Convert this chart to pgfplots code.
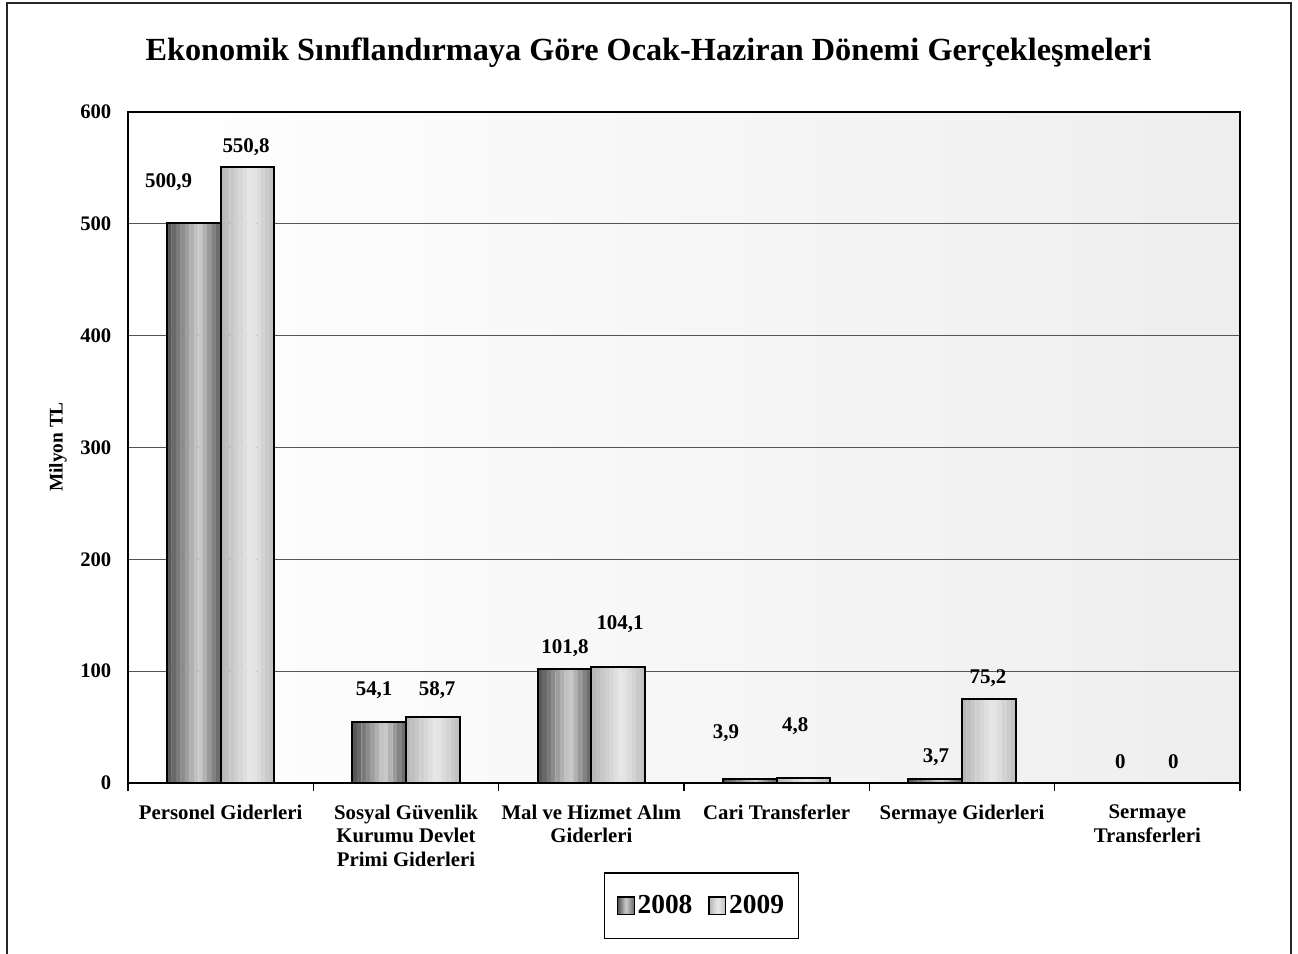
\documentclass[border=0pt]{standalone}
\usepackage{pgfplots}
\usepackage{pgfplotstable}
\pgfplotsset{compat=1.18}
\usepackage{fontspec}
\setmainfont{Liberation Serif}
\definecolor{gridc}{HTML}{555555}
\definecolor{aL}{HTML}{505050}
\definecolor{aM}{HTML}{CCCCCC}
\definecolor{aR}{HTML}{6A6A6A}
\definecolor{bL}{HTML}{B5B5B5}
\definecolor{bM}{HTML}{E8E8E8}
\definecolor{bR}{HTML}{C0C0C0}
\definecolor{bgR}{HTML}{EEEEEE}
% stripe colours (left to right) for the shaded bars
\definecolor{a0}{HTML}{585858}\definecolor{a1}{HTML}{686868}\definecolor{a2}{HTML}{7A7A7A}
\definecolor{a3}{HTML}{8C8C8C}\definecolor{a4}{HTML}{9E9E9E}\definecolor{a5}{HTML}{B0B0B0}
\definecolor{a6}{HTML}{C2C2C2}\definecolor{a7}{HTML}{C8C8C8}\definecolor{a8}{HTML}{B2B2B2}
\definecolor{a9}{HTML}{9A9A9A}\definecolor{a10}{HTML}{838383}\definecolor{a11}{HTML}{6E6E6E}
\definecolor{b0}{HTML}{B8B8B8}\definecolor{b1}{HTML}{BFBFBF}\definecolor{b2}{HTML}{C7C7C7}
\definecolor{b3}{HTML}{CFCFCF}\definecolor{b4}{HTML}{D7D7D7}\definecolor{b5}{HTML}{DFDFDF}
\definecolor{b6}{HTML}{E6E6E6}\definecolor{b7}{HTML}{E4E4E4}\definecolor{b8}{HTML}{DCDCDC}
\definecolor{b9}{HTML}{D3D3D3}\definecolor{b10}{HTML}{CACACA}\definecolor{b11}{HTML}{C2C2C2}
\pgfplotstableread{
x y08 y09
0 500.9 550.8
1 54.1 58.7
2 101.8 104.1
3 3.9 4.8
4 3.7 75.2
5 0 0
}\datatable
% strip: colour, shift, column
\newcommand{\strip}[3]{\addplot[forget plot, draw=none, fill=#1, bar width=0.02508, bar shift=#2] table[x=x,y=#3]{\datatable};}
\begin{document}
\begin{tikzpicture}
\path[use as bounding box] (0,0) rectangle (973.5pt,714.75pt);
\draw[line width=1.2pt, black!85] (5.25pt,-20pt) -- (5.25pt,712.5pt) -- (968.25pt,712.5pt) -- (968.25pt,-20pt);
\node[font=\bfseries\fontsize{24.2}{30}\selectfont, anchor=base] at (486.4pt,669pt) {Ekonomik Sınıflandırmaya Göre Ocak-Haziran Dönemi Gerçekleşmeleri};
\node[rotate=90, font=\bfseries\fontsize{14.5}{17}\selectfont] at (43.5pt,379.5pt) {Milyon TL};
\begin{axis}[
  at={(96pt,127.5pt)}, anchor=south west,
  scale only axis, width=834pt, height=503.25pt,
  xmin=-0.5, xmax=5.5, ymin=0, ymax=600,
  ytick={0,100,...,600},
  ymajorgrids, grid style={gridc, line width=0.8pt},
  xtick={0,...,5},
  xticklabels={Personel Giderleri,{Sosyal Güvenlik\\Kurumu Devlet\\Primi Giderleri},{Mal ve Hizmet Alım\\Giderleri},Cari Transferler,Sermaye Giderleri,{Sermaye\\Transferleri}},
  minor xtick={-0.5,0.5,...,5.5},
  major tick length=0pt,
  minor tick length=6pt,
  tick align=outside,
  xtick pos=bottom, ytick pos=left,
  tick style={black, line width=0.8pt},
  axis line style={black, line width=1.1pt},
  axis background/.style={left color=white, right color=bgR},
  /pgf/number format/assume math mode=true,
  y tick label style={font=\bfseries\fontsize{15.5}{18}\selectfont, xshift=-9pt},
  x tick label style={font=\bfseries\fontsize{15.6}{17.6}\selectfont, align=center, yshift=-13pt},
  ybar,
  legend style={at={(0.516,-0.183)}, anchor=center, draw=black, line width=0.8pt,
    legend columns=2, font=\bfseries\fontsize{20.6}{24}\selectfont,
    inner xsep=9pt, inner ysep=15pt,
    /tikz/every even column/.append style={column sep=10pt}},
]
% 2008 stripes (bar spans -0.289 .. 0)
\strip{a0}{-0.2770}{y08}\strip{a1}{-0.2529}{y08}\strip{a2}{-0.2288}{y08}
\strip{a3}{-0.2047}{y08}\strip{a4}{-0.1806}{y08}\strip{a5}{-0.1565}{y08}
\strip{a6}{-0.1325}{y08}\strip{a7}{-0.1084}{y08}\strip{a8}{-0.0843}{y08}
\strip{a9}{-0.0602}{y08}\strip{a10}{-0.0361}{y08}\strip{a11}{-0.0120}{y08}
% 2009 stripes (bar spans 0 .. 0.289)
\strip{b0}{0.0120}{y09}\strip{b1}{0.0361}{y09}\strip{b2}{0.0602}{y09}
\strip{b3}{0.0843}{y09}\strip{b4}{0.1084}{y09}\strip{b5}{0.1325}{y09}
\strip{b6}{0.1565}{y09}\strip{b7}{0.1806}{y09}\strip{b8}{0.2047}{y09}
\strip{b9}{0.2288}{y09}\strip{b10}{0.2529}{y09}\strip{b11}{0.2770}{y09}
% outlines
\addplot[bar width=0.289, bar shift=-0.1445, draw=black, line width=1.5pt, fill=none,
  legend image code/.code={\draw[black, line width=1pt, left color=aL, right color=aR, middle color=aM] (0pt,-6.5pt) rectangle (12.5pt,6.5pt);}]
  table[x=x,y=y08]{\datatable};
\addplot[bar width=0.289, bar shift=0.1445, draw=black, line width=1.5pt, fill=none,
  legend image code/.code={\draw[black, line width=1pt, left color=bL, right color=bR, middle color=bM] (0pt,-6.5pt) rectangle (12.5pt,6.5pt);}]
  table[x=x,y=y09]{\datatable};
\legend{2008,2009}
\begin{scope}[every node/.style={font=\bfseries\fontsize{15.7}{18}\selectfont}]
\node at (axis cs:-0.281,537.4) {500,9};
\node at (axis cs:0.137,568.7) {550,8};
\node at (axis cs:0.828,83.2) {54,1};
\node at (axis cs:1.168,83.2) {58,7};
\node at (axis cs:1.858,120.7) {101,8};
\node at (axis cs:2.155,142.2) {104,1};
\node at (axis cs:2.727,44.7) {3,9};
\node at (axis cs:3.10,51.0) {4,8};
\node at (axis cs:3.86,23.2) {3,7};
\node at (axis cs:4.14,93.9) {75,2};
\node at (axis cs:4.855,18.8) {0};
\node at (axis cs:5.14,18.8) {0};
\end{scope}
\end{axis}
\end{tikzpicture}
\end{document}
